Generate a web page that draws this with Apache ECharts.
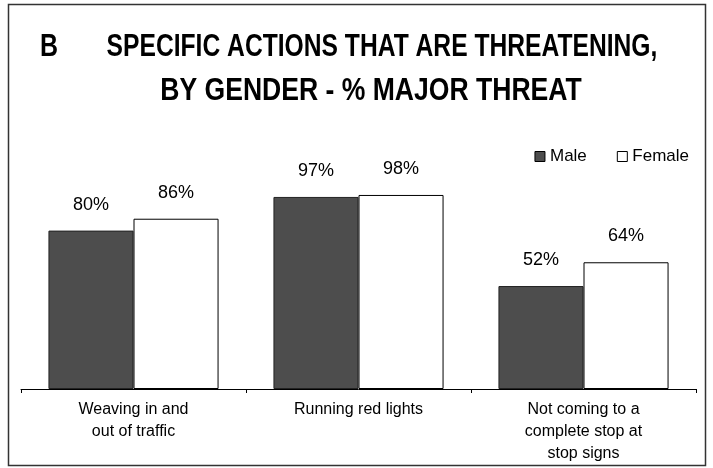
<!DOCTYPE html>
<html>
<head>
<meta charset="utf-8">
<script src="https://cdn.jsdelivr.net/npm/echarts@6/dist/echarts.min.js"></script>
<style>
html,body{margin:0;padding:0;background:#fff;}
#chart{width:713px;height:468px;}
</style>
</head>
<body>
<div id="chart"></div>
<script>
var categories = ['Weaving in and\nout of traffic', 'Running red lights', 'Not coming to a\ncomplete stop at\nstop signs'];
var seriesNames = ['Male', 'Female'];
var maleValues = [80, 97, 52];
var femaleValues = [86, 98, 64];
var titleLetter = 'B';
var titleLine1 = 'SPECIFIC ACTIONS THAT ARE THREATENING,';
var titleLine2 = 'BY GENDER - % MAJOR THREAT';

var FONT = "'Liberation Sans', Arial, sans-serif";
var chart = echarts.init(document.getElementById('chart'), null, {renderer: 'canvas'});
var labelCfg = {
  show: true, position: 'top', distance: 17,
  formatter: function (p) { return p.value + '%'; },
  fontFamily: FONT, fontSize: 18, color: '#000'
};
var titleFont = "bold 32px 'Liberation Sans', Arial, sans-serif";
chart.setOption({
  animation: false,
  backgroundColor: '#fff',
  graphic: [{
    type: 'rect', shape: {x: 8.5, y: 4.5, width: 697, height: 461},
    style: {fill: 'none', stroke: '#333', lineWidth: 1.5}, z: -1
  }, {
    type: 'text', x: 40, y: 47, scaleX: 0.78,
    style: {text: titleLetter, font: titleFont, fill: '#000', align: 'left', verticalAlign: 'middle'}
  }, {
    type: 'text', x: 382, y: 47, scaleX: 0.77,
    style: {text: titleLine1, font: titleFont, fill: '#000', align: 'center', verticalAlign: 'middle'}
  }, {
    type: 'text', x: 371, y: 91.5, scaleX: 0.83,
    style: {text: titleLine2, font: titleFont, fill: '#000', align: 'center', verticalAlign: 'middle'}
  }],
  legend: {
    data: seriesNames, right: 19, top: 143, itemWidth: 10, itemHeight: 10, itemGap: 30,
    icon: 'rect',
    itemStyle: {borderColor: '#000', borderWidth: 1},
    textStyle: {fontFamily: FONT, fontSize: 17, color: '#000'}
  },
  grid: {left: 21, right: 17, top: 191, bottom: 79, containLabel: false},
  xAxis: {
    type: 'category', data: categories,
    axisLine: {lineStyle: {color: '#000', width: 1}},
    axisTick: {show: true, length: 4, lineStyle: {color: '#000'}},
    axisLabel: {fontFamily: FONT, fontSize: 16, color: '#000', margin: 10, lineHeight: 22, interval: 0}
  },
  yAxis: {
    type: 'value', min: 0, max: 100, show: false,
    splitLine: {show: false}
  },
  series: [{
    name: 'Male', type: 'bar', data: maleValues,
    barGap: '0%', barCategoryGap: '24.4%',
    itemStyle: {color: '#4d4d4d', borderColor: '#222', borderWidth: 1},
    label: labelCfg
  }, {
    name: 'Female', type: 'bar', data: femaleValues,
    itemStyle: {color: '#fff', borderColor: '#000', borderWidth: 1},
    label: labelCfg
  }]
});
</script>
</body>
</html>
